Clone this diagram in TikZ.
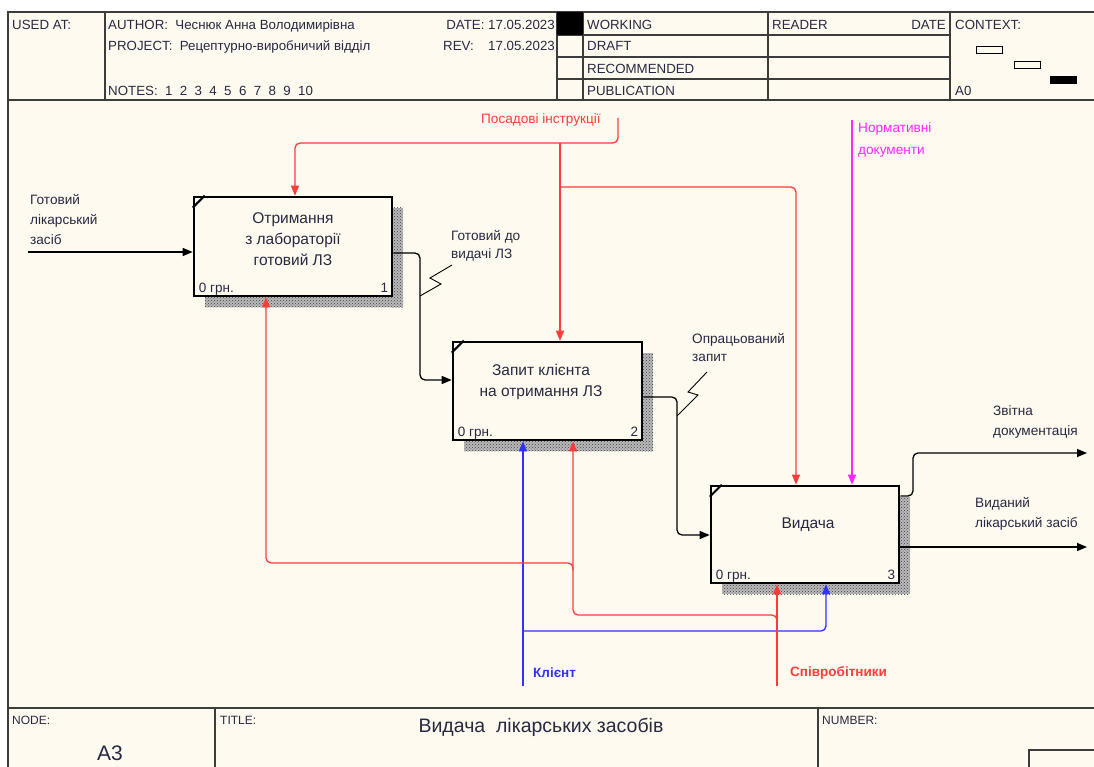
\documentclass[tikz,border=0pt]{standalone}
\usepackage{fontspec}
\setmainfont{Liberation Sans}
\usetikzlibrary{arrows.meta,patterns,calc}
\definecolor{bg}{RGB}{255,250,240}
\definecolor{ink}{RGB}{40,40,65}
\definecolor{idred}{RGB}{255,60,60}
\definecolor{idblue}{RGB}{50,50,255}
\definecolor{idmag}{RGB}{250,40,250}
\definecolor{frm}{RGB}{60,60,60}
\tikzset{
  box/.style={draw=black, line width=2.6pt, fill=bg, inner sep=0pt},
  btxt/.style={font=\fontsize{15.5}{21}\selectfont, text=ink, align=center, inner sep=0pt},
  lbl/.style={font=\fontsize{13.6}{20}\selectfont, text=ink, align=left, inner sep=0pt, anchor=north west},
  small/.style={font=\fontsize{13.5}{15}\selectfont, text=ink, inner sep=0pt},
  hdr/.style={font=\fontsize{13.3}{15}\selectfont, text=ink, inner sep=0pt, anchor=base west},
  arr/.style={line width=1.3pt, -{Triangle[length=10pt,width=8pt]}, rounded corners=5pt},
  shadebase/.style={fill=gray!55},
  shade/.style={pattern=crosshatch dots, pattern color=black!75},
  tunnel/.style={line width=0.9pt, black},
  grid/.style={line width=1.1pt, frm}
}
\begin{document}
\begin{tikzpicture}[x=1pt,y=-1pt]
\useasboundingbox (0,0) rectangle (1094,767);
\fill[white] (0,0) rectangle (1094,767);
\fill[bg] (8,12) rectangle (1094,767);

% ---------- header ----------
\draw[grid, line width=1.3pt] (8,767) -- (8,12) -- (1094,12);
\draw[grid] (8,100) -- (1094,100);
\draw[grid] (105,12) -- (105,100);
\draw[grid] (557,12) -- (557,100);
\draw[grid] (583,12) -- (583,100);
\draw[grid] (768,12) -- (768,100);
\draw[grid] (950,12) -- (950,100);
\draw[grid] (557,35) -- (950,35);
\draw[grid] (557,57) -- (950,57);
\draw[grid] (557,79) -- (950,79);
\fill[black] (557,12) rectangle (583,35);

\node[hdr] (usedat) at (12,30) {USED AT:};
\node[hdr] (author) at (108,30) {AUTHOR:\ \ Чеснюк Анна Володимирівна};
\node[hdr] (project) at (108,51) {PROJECT:\ \ Рецептурно-виробничий відділ};
\node[hdr] (notes) at (108,96) {NOTES:\ \ 1\ \ 2\ \ 3\ \ 4\ \ 5\ \ 6\ \ 7\ \ 8\ \ 9\ \ 10};
\node[hdr, anchor=base east] (date) at (555,30) {DATE: 17.05.2023};
\node[hdr] (rev) at (443,51) {REV:};
\node[hdr, anchor=base east] (revd) at (555,51) {17.05.2023};
\node[hdr] (working) at (587,30) {WORKING};
\node[hdr] (draft) at (587,51) {DRAFT};
\node[hdr] (recom) at (587,74) {RECOMMENDED};
\node[hdr] (publ) at (587,96) {PUBLICATION};
\node[hdr] (reader) at (772,30) {READER};
\node[hdr, anchor=base east] (rdate) at (946,30) {DATE};
\node[hdr] (context) at (955,30) {CONTEXT:};
\node[hdr] (azero) at (955,96) {A0};
\draw[line width=0.9pt] (976,46) rectangle (1002,53);
\draw[line width=0.9pt] (1014,61) rectangle (1040,68);
\fill[black] (1050,76) rectangle (1077,84);

% ---------- footer ----------
\draw[grid] (8,708) -- (1094,708);
\draw[grid] (215,708) -- (215,767);
\draw[grid] (818,708) -- (818,767);
\draw[grid] (1029,767) -- (1029,750) -- (1094,750);
\node[hdr, font=\fontsize{12}{14}\selectfont] (nodelbl) at (12,724) {NODE:};
\node[hdr, font=\fontsize{12}{14}\selectfont] (titlelbl) at (220,724) {TITLE:};
\node[hdr, font=\fontsize{12}{14}\selectfont] (numlbl) at (822,724) {NUMBER:};
\node[small, font=\fontsize{21}{24}\selectfont] (nodeid) at (110,753) {A3};
\node[small, font=\fontsize{19.5}{22}\selectfont] (title) at (541,727) {Видача\ \ лікарських засобів};

% ---------- shadows ----------
\foreach \x/\y/\w/\h in {392/208/11/99, 205/296/198/11, 642/353/11/98, 464/440/189/11, 899/497/11/97, 722/583/188/11}{
  \fill[shadebase] (\x,\y) rectangle ++(\w,\h);
  \fill[shade] (\x,\y) rectangle ++(\w,\h);
}

% ---------- boxes ----------
\node[box, minimum width=198pt, minimum height=99pt] (b1) at (293,246.5) {};
\node[box, minimum width=189pt, minimum height=98pt] (b2) at (547.5,391) {};
\node[box, minimum width=188pt, minimum height=97pt] (b3) at (805,534.5) {};
\foreach \b in {b1,b2,b3}{
  \draw[line width=2pt] ($(\b.north west)+(0,12)$) -- ($(\b.north west)+(12,0)$);
}
\node[btxt] (t1) at (293,239) {Отримання\\з лабораторії\\готовий ЛЗ};
\node[btxt] (t2) at (541,382) {Запит клієнта\\на отримання ЛЗ};
\node[btxt] (t3) at (808,525) {Видача};
\node[small, anchor=base west] (c1) at ($(b1.south west)+(6,-5)$) {0 грн.};
\node[small, anchor=base east] (n1) at ($(b1.south east)+(-5,-5)$) {1};
\node[small, anchor=base west] (c2) at ($(b2.south west)+(6,-5)$) {0 грн.};
\node[small, anchor=base east] (n2) at ($(b2.south east)+(-5,-5)$) {2};
\node[small, anchor=base west] (c3) at ($(b3.south west)+(6,-5)$) {0 грн.};
\node[small, anchor=base east] (n3) at ($(b3.south east)+(-5,-5)$) {3};

% ---------- labels ----------
\node[lbl] (lin) at (30,194) {Готовий\\лікарський\\засіб};
\node[lbl, font=\fontsize{13.6}{18}\selectfont] (l12) at (451,230) {Готовий до\\видачі ЛЗ};
\node[lbl, font=\fontsize{13.6}{18}\selectfont] (l23) at (692,333) {Опрацьований\\запит};
\node[lbl] (lrep) at (993,405) {Звітна\\документація};
\node[lbl] (lout) at (975,497) {Виданий\\лікарський засіб};
\node[lbl, text=idred] (lpi) at (481,113) {Посадові інструкції};
\node[lbl, text=idmag, font=\fontsize{13.6}{22}\selectfont] (lnd) at (858,122) {Нормативні\\документи};
\node[lbl, text=idblue, font=\bfseries\fontsize{13.5}{15}\selectfont] (lkl) at (533,668) {Клієнт};
\node[lbl, text=idred, font=\bfseries\fontsize{13.5}{15}\selectfont] (lsp) at (790,666) {Співробітники};

% ---------- free ends / junctions ----------
\coordinate (src) at (28,252);
\coordinate (pi) at (618,118);
\coordinate (pj1) at (560,143);
\coordinate (pj2) at (560,187);
\coordinate (nd) at (852,120);
\coordinate (kl) at (523,686);
\coordinate (kj) at (523,631);
\coordinate (sp) at (777,686);
\coordinate (sj) at (777,625);
\coordinate (sj2) at (573,570);
\coordinate (rep) at (1087,453);
\coordinate (out) at (1087,547);

% ---------- connectors ----------
\draw[arr] (src) -- (b1.west |- src);
\draw[arr] (b1.east |- 0,253) -- (420,253) -- (420,380) -- (b2.west |- 0,380);
\draw[arr] (b2.east |- 0,397) -- (677,397) -- (677,535) -- (b3.west |- 0,535);
\draw[arr] (b3.east |- 0,496) -- (913,496) -- (913,453) -- (rep);
\draw[arr] (b3.east |- out) -- (out);

\draw[arr, idred] (pi) -- (618,143) -- (295,143) -- (b1.north -| 295,0);
\draw[arr, idred] (pj1) -- (b2.north -| pj1);
\draw[arr, idred] (pj2) -- (796,187) -- (b3.north -| 796,0);
\draw[arr, idmag] (nd) -- (b3.north -| nd);

\draw[arr, idblue] (kl) -- (b2.south -| kl);
\draw[arr, idblue] (kj) -- (826,631) -- (b3.south -| 826,0);

\draw[arr, idred] (sp) -- (b3.south -| sp);
\draw[arr, idred] (sj) -- (777,615) -- (573,615) -- (b2.south -| 573,0);
\draw[arr, idred] (sj2) -- (573,563) -- (266,563) -- (b1.south -| 266,0);

% ---------- tunnel marks ----------
\draw[tunnel] (452,265) -- (430,278) -- (441,284) -- (420,296);
\draw[tunnel] (707,372) -- (688,392) -- (698,395) -- (677,416);
\end{tikzpicture}
\end{document}
